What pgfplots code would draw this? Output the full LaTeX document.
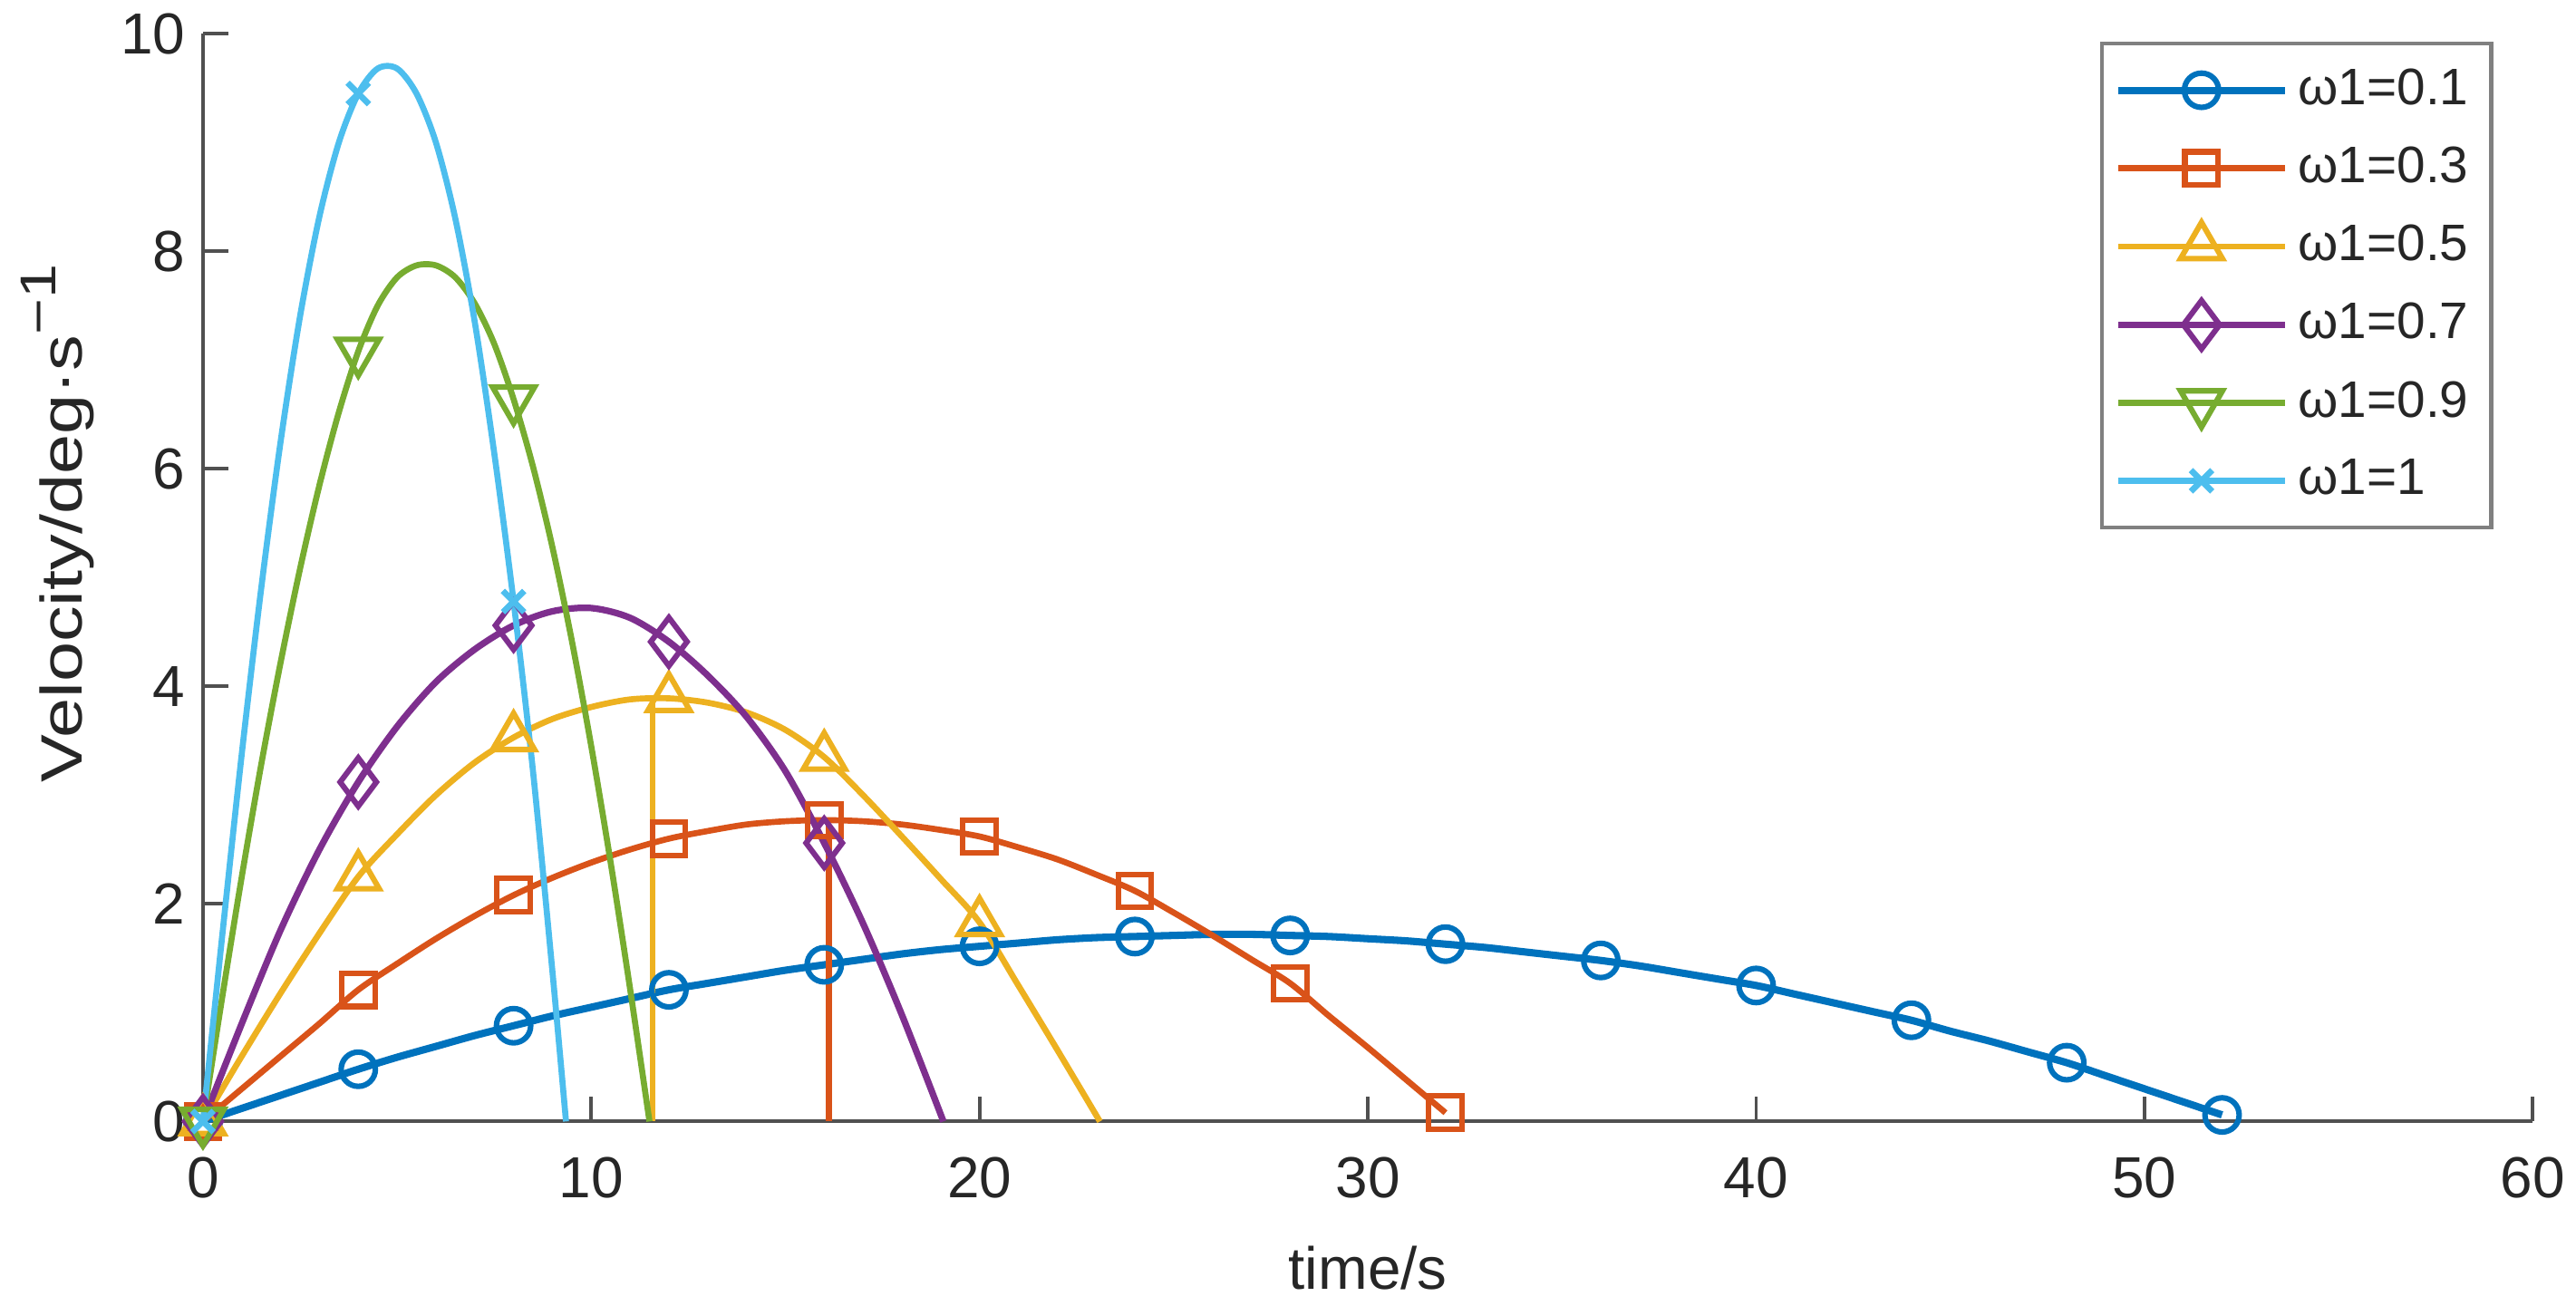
\documentclass[border=0pt]{standalone}
\usepackage{fontspec}
\setmainfont{Liberation Sans}
\newfontfamily\ylabfont[FakeStretch=1.23]{Liberation Sans}
\usepackage{pgfplots}
\pgfplotsset{compat=1.18}
\definecolor{c1}{HTML}{0072BD}
\definecolor{c2}{HTML}{D95319}
\definecolor{c3}{HTML}{EDB120}
\definecolor{c4}{HTML}{7E2F8E}
\definecolor{c5}{HTML}{77AC30}
\definecolor{c6}{HTML}{4DBEEE}
\definecolor{axgray}{HTML}{505050}
\definecolor{txt}{HTML}{262626}
\begin{document}
\begin{tikzpicture}
\begin{axis}[
  scale only axis, width=462.6pt, height=216pt,
  xmin=0, xmax=60, ymin=0, ymax=10,
  axis lines=left, axis line style={-, axgray, line width=0.7pt},
  tick align=inside, major tick length=5pt, tick style={axgray, line width=0.7pt},
  xtick={0,10,...,60}, ytick={0,2,...,10},
  /pgf/number format/assume math mode=true,
  ticklabel style={font=\fontsize{11.5}{13}\selectfont, text=txt},
  xticklabel style={yshift=-3.5pt},
  xlabel={time/s},
  ylabel={Velocity/deg·s\raisebox{0.45em}{\fontsize{10}{11}\selectfont −1}},
  xlabel style={font=\fontsize{11.8}{13}\selectfont, text=txt, yshift=-2.7pt},
  ylabel style={font=\ylabfont\fontsize{11.6}{13}\selectfont, text=txt,
    at={(axis description cs:-0.052,0.55)}, anchor=base},
  clip=false,
  legend style={at={(0.983,0.993)}, anchor=north east, draw=gray, line width=0.8pt,
    font=\fontsize{10.2}{11}\selectfont, text=txt, row sep=2.9pt, inner xsep=2.5pt, inner ysep=3pt},
  legend cell align=left,
  legend image code/.code={\draw[mark repeat=2,mark phase=2] plot coordinates {(0pt,0pt) (16.5pt,0pt) (33pt,0pt)};},
]
% omega1 = 0.1
\addplot[c1, line width=1.45pt, smooth, mark=o, mark size=3.4pt, mark repeat=4,
  mark options={solid, line width=1.1pt, fill=white}] coordinates {
(0,0)(1,0.12)(2,0.24)(3,0.36)(4,0.48)(5,0.59)(6,0.69)(7,0.79)(8,0.88)(9,0.97)(10,1.05)(11,1.13)(12,1.21)(13,1.27)(14,1.33)(15,1.39)(16,1.44)(17,1.49)(18,1.54)(19,1.58)(20,1.61)(21,1.64)(22,1.67)(23,1.69)(24,1.70)(25,1.71)(26,1.72)(27,1.72)(28,1.71)(29,1.70)(30,1.68)(31,1.66)(32,1.63)(33,1.60)(34,1.56)(35,1.52)(36,1.48)(37,1.43)(38,1.37)(39,1.31)(40,1.25)(41,1.17)(42,1.09)(43,1.01)(44,0.93)(45,0.83)(46,0.74)(47,0.64)(48,0.54)(49,0.42)(50,0.30)(51,0.18)(52,0.06)
};
\addlegendentry{ω1=0.1}
% omega1 = 0.3
\addplot[c2, line width=1.2pt, smooth, mark=square, mark size=3.3pt, mark repeat=4,
  mark options={solid, line width=1.1pt, fill=white}] coordinates {
(0,0)(1,0.30)(2,0.60)(3,0.90)(4,1.21)(5,1.45)(6,1.68)(7,1.89)(8,2.08)(9,2.24)(10,2.38)(11,2.50)(12,2.60)(13,2.67)(14,2.73)(15,2.76)(16,2.77)(17,2.76)(18,2.73)(19,2.68)(20,2.62)(21,2.52)(22,2.41)(23,2.27)(24,2.12)(25,1.92)(26,1.71)(27,1.49)(28,1.27)(29,0.97)(30,0.68)(31,0.38)(32,0.08)
};
\addlegendentry{ω1=0.3}
\addplot[c2, line width=1.2pt, forget plot] coordinates {(16.12,2.72)(16.12,0)};
% omega1 = 0.5
\addplot[c3, line width=1.2pt, smooth, mark=triangle, mark size=4.8pt, mark repeat=4,
  mark options={solid, line width=1.1pt, fill=white}] coordinates {
(0,0)(1,0.60)(2,1.18)(3,1.73)(4,2.25)(5,2.64)(6,3.00)(7,3.30)(8,3.53)(9,3.70)(10,3.81)(11,3.88)(12,3.89)(13,3.85)(14,3.76)(15,3.60)(16,3.35)(17,3.00)(18,2.62)(19,2.23)(20,1.83)(21,1.25)(22,0.66)(23.1,0)
};
\addlegendentry{ω1=0.5}
\addplot[c3, line width=1.2pt, forget plot] coordinates {(11.58,3.89)(11.58,0)};
% omega1 = 0.7
\addplot[c4, line width=1.3pt, smooth, mark=diamond, mark size=4.8pt, mark repeat=4,
  mark options={solid, line width=1.1pt, fill=white}] coordinates {
(0,0)(1,0.90)(2,1.76)(3,2.50)(4,3.12)(5,3.63)(6,4.04)(7,4.34)(8,4.56)(9,4.69)(10,4.72)(11,4.63)(12,4.41)(13,4.10)(14,3.72)(15,3.22)(16,2.56)(17,1.82)(18,0.98)(19.07,0)
};
\addlegendentry{ω1=0.7}
% omega1 = 0.9
\addplot[c5, line width=1.2pt, smooth, mark=triangle, mark size=4.8pt, mark repeat=8,
  mark options={solid, line width=1.1pt, fill=white, rotate=180}] coordinates {
(0,0)(0.5,1.15)(1,2.25)(1.5,3.28)(2,4.22)(2.5,5.08)(3,5.85)(3.5,6.52)(4,7.08)(4.5,7.50)(5,7.76)(5.5,7.87)(6,7.87)(6.5,7.76)(7,7.52)(7.5,7.15)(8,6.64)(8.5,6.02)(9,5.28)(9.5,4.42)(10,3.45)(10.5,2.38)(11,1.22)(11.5,0)
};
\addlegendentry{ω1=0.9}
% omega1 = 1
\addplot[c6, line width=1.2pt, smooth, mark=x, mark size=3pt, mark repeat=8,
  mark options={solid, line width=1.2pt}] coordinates {
(0,0)(0.5,1.72)(1,3.38)(1.5,4.90)(2,6.25)(2.5,7.40)(3,8.32)(3.5,9.00)(4,9.45)(4.5,9.68)(5,9.68)(5.5,9.45)(6,9.00)(6.5,8.30)(7,7.35)(7.5,6.15)(8,4.78)(8.5,3.22)(9,1.38)(9.35,0)
};
\addlegendentry{ω1=1}
\end{axis}
\pgfresetboundingbox
\path[use as bounding box] ([xshift=-40.3pt, yshift=-36.5pt]current axis.south west) rectangle ([xshift=8.6pt, yshift=6.7pt]current axis.north east);
\end{tikzpicture}
\end{document}
